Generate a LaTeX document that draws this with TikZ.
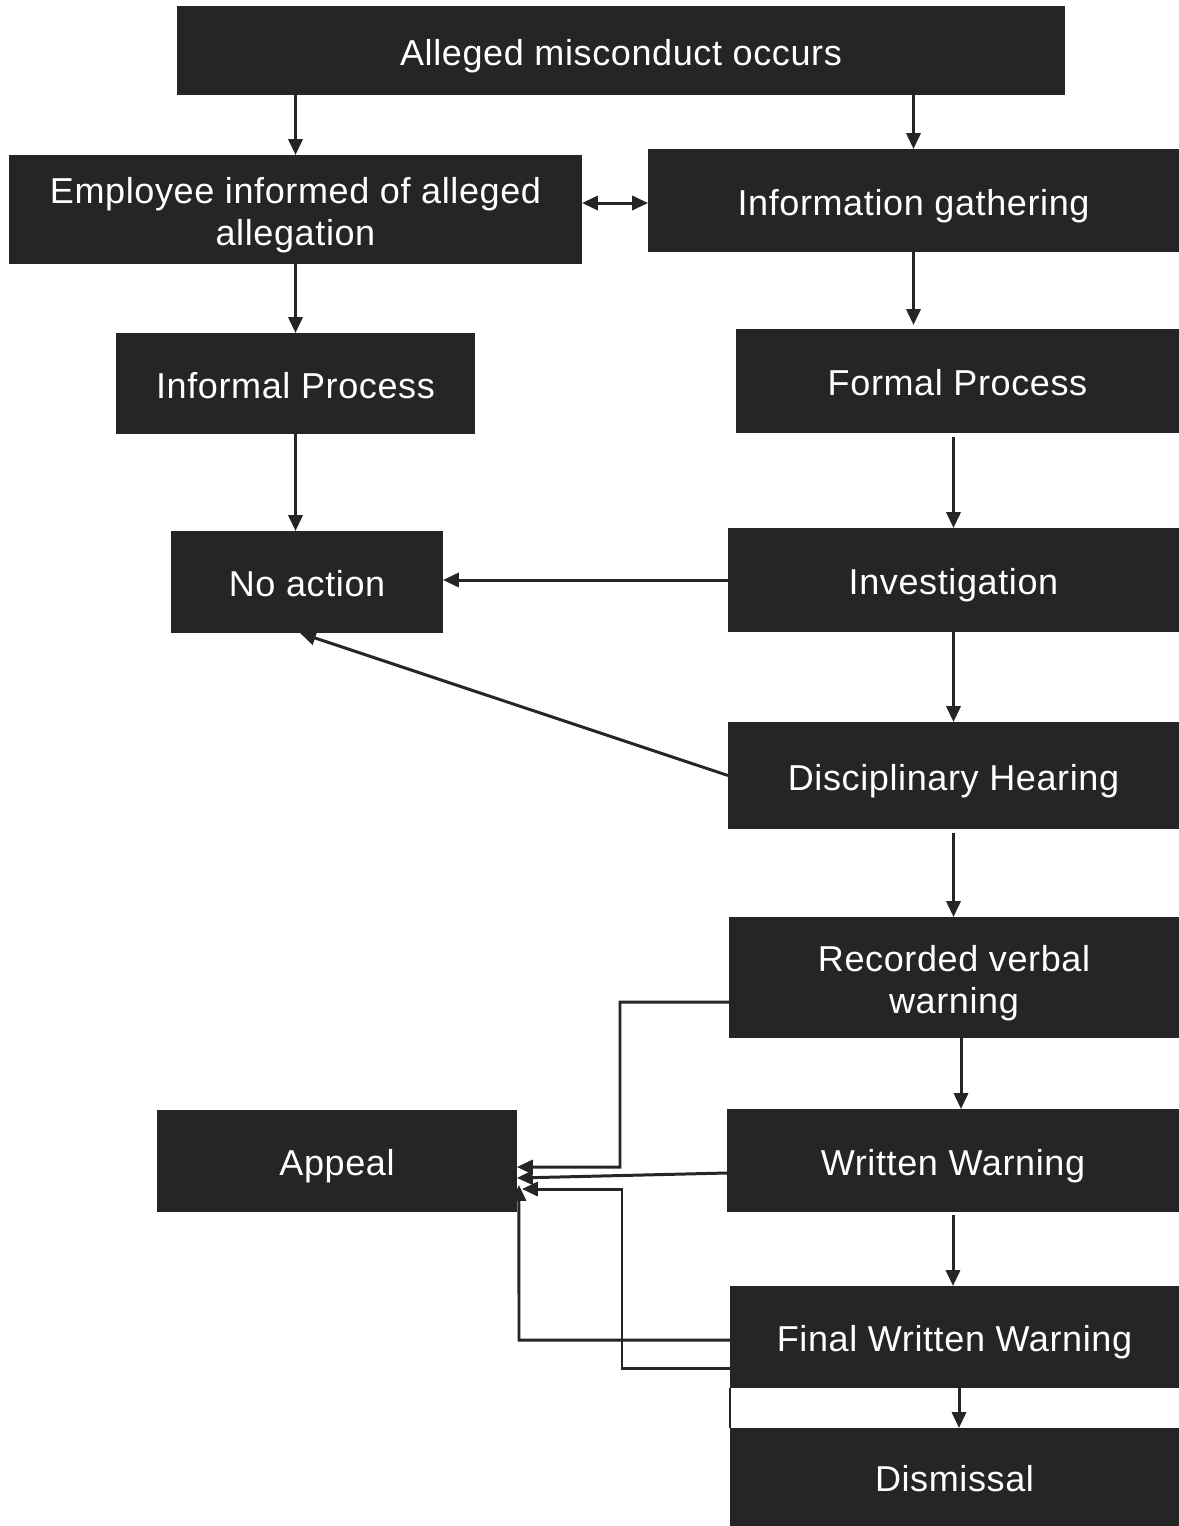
\documentclass[tikz,border=0pt]{standalone}
\usepackage{fontspec}
\setmainfont[LetterSpace=1.7]{Liberation Sans}
\usetikzlibrary{arrows.meta,calc}
\definecolor{boxc}{HTML}{252525}
\newcommand\bt[1]{\raisebox{-3.5pt}[\height][\depth]{\begin{tabular}{@{}c@{}}#1\end{tabular}}}
\begin{document}
\begin{tikzpicture}[x=0.02cm,y=-0.02cm,
  box/.style={draw=none,fill=boxc,text=white,inner sep=0pt,outer sep=0pt,
    font=\fontsize{20.5}{24}\selectfont},
  arr/.style={draw=boxc,line width=1.7pt,-{Triangle[length=9pt,width=8pt]}},
  darr/.style={draw=boxc,line width=1.7pt,{Triangle[length=9pt,width=8pt]}-{Triangle[length=9pt,width=8pt]}},
  ln/.style={draw=boxc,line width=1.7pt}]
\useasboundingbox (0,0) rectangle (1179,1526);
\node[box,minimum width=17.76cm,minimum height=1.78cm] (A) at (621,50.5) {\bt{Alleged misconduct occurs}};
\node[box,minimum width=11.46cm,minimum height=2.18cm] (E) at (295.5,209.5) {\bt{Employee informed of alleged\\allegation}};
\node[box,minimum width=10.62cm,minimum height=2.06cm] (I) at (913.5,200.5) {\bt{Information gathering}};
\node[box,minimum width=7.18cm,minimum height=2.02cm] (IP) at (295.5,383.5) {\bt{Informal Process}};
\node[box,minimum width=8.86cm,minimum height=2.08cm] (FP) at (957.5,381) {\bt{Formal Process}};
\node[box,minimum width=5.44cm,minimum height=2.04cm] (NA) at (307,582) {\bt{No action}};
\node[box,minimum width=9.02cm,minimum height=2.08cm] (INV) at (953.5,580) {\bt{Investigation}};
\node[box,minimum width=9.02cm,minimum height=2.14cm] (DH) at (953.5,775.5) {\bt{Disciplinary Hearing}};
\node[box,minimum width=9.00cm,minimum height=2.42cm] (RVW) at (954,977.5) {\bt{Recorded verbal\\warning}};
\node[box,minimum width=7.20cm,minimum height=2.04cm] (AP) at (337,1161) {\bt{Appeal}};
\node[box,minimum width=9.04cm,minimum height=2.06cm] (WW) at (953,1160.5) {\bt{Written Warning}};
\node[box,minimum width=8.98cm,minimum height=2.04cm] (FWW) at (954.5,1337) {\bt{Final Written Warning}};
\node[box,minimum width=8.98cm,minimum height=1.96cm] (D) at (954.5,1477) {\bt{Dismissal}};

% top
\draw[arr] (A.south -| E.north) -- (E.north);
\draw[arr] (A.south -| I.north) -- (I.north);
\coordinate (ei) at (582,203);
\draw[darr] (ei) -- (ei -| I.west);
\draw[arr] (E.south -| IP.north) -- (IP.north);
\draw[arr] (I.south) -- ($(I.south |- FP.north)+(0,-4)$);
\draw[arr] (IP.south) -- (IP.south |- NA.north);
\draw[arr] ($(INV.north |- FP.south)+(0,4)$) -- (INV.north);
\draw[arr] (INV.west) -- (INV.west -| NA.east);
\draw[arr] (DH.west) -- ($(NA.south)+(-7,0)$);
\draw[arr] (INV.south) -- (DH.north);
\draw[arr] ($(DH.south)+(0,4)$) -- (DH.south |- RVW.north);
\draw[arr] ($(RVW.south)+(7,0)$) -- ($(RVW.south |- WW.north)+(7,0)$);
\draw[arr] ($(WW.south)+(0,3)$) -- (WW.south |- FWW.north);
\draw[arr] ($(FWW.south)+(4.5,0)$) -- ($(FWW.south |- D.north)+(4.5,0)$);
\draw[ln,line width=0.8pt] (FWW.south west) -- (D.north west);

% appeal connectors
\draw[arr] ($(RVW.west)+(0,24.5)$) -- (620,1002) -- (620,1167) -- ($(AP.east)+(0,6)$);
\draw[arr] ($(WW.west)+(0,12.5)$) -- ($(AP.east)+(0,17)$);
\draw[arr] ($(FWW.west)+(0,3)$) -- (519,1340) -- ($(AP.east)+(2,24)$);
\draw[arr] ($(FWW.west)+(0,31)$) -- (622,1368) -- (622,1189) -- ($(AP.east)+(5,28)$);
\end{tikzpicture}
\end{document}
